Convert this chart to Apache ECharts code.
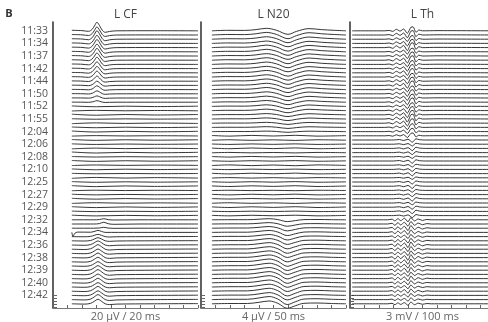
<!DOCTYPE html>
<html>
<head>
<meta charset="utf-8">
<script src="https://cdn.jsdelivr.net/npm/echarts@6/dist/echarts.min.js"></script>
<style>
  html, body { margin: 0; padding: 0; background: #fff; }
  #chart { width: 488px; height: 322px; }
</style>
</head>
<body>
<div id="chart"></div>
<script>
// acquisition times, one label every 3rd trace
const timeLabels = ['11:33', '11:34', '11:37', '11:42', '11:44', '11:50', '11:52', '11:55',
  '12:04', '12:06', '12:08', '12:10', '12:25', '12:27', '12:29', '12:32', '12:34', '12:36',
  '12:38', '12:39', '12:40', '12:42'];
const LABEL_STEP = 3;
const TRACE_COUNT = 66;

// waveform shapes: [time (axis units), amplitude (up = positive)]
const cfShapes = {
  A: [[1.3, 0.5], [2.0, 0.2], [2.45, -0.5], [2.7, 1.5], [2.86, 5], [3.03, 8.5], [3.2, 5.5], [3.4, 0.5], [3.6, -1.5], [3.9, -0.6], [4.4, 0], [7, 0.1], [10, 0]],
  B: [[1.3, 0], [2.2, -0.3], [2.6, 0.5], [2.85, 2.5], [3.1, 4.5], [3.35, 2.5], [3.6, 0], [3.9, -0.8], [4.4, -0.3], [7, 0], [10, 0.2]],
  C: [[1.3, 0], [2.8, 0], [3.2, 0.4], [3.5, 1.8], [3.8, 0.3], [4.2, -0.3], [6, 0], [10, 0]],
  X: [[1.3, 0], [1.38, -4], [1.5, -1], [1.7, 0.3], [2.6, 0.2], [2.9, 1.2], [3.1, 2], [3.35, 1], [3.6, 0], [10, 0]],
  D: [[1.3, 0.6], [3, -0.4], [5, 0.3], [7, -0.2], [10, 0.3]]
};
const cfOrder = 'A'.repeat(18) + 'D'.repeat(27) + 'CCC' + 'X' + 'B'.repeat(17);
const cfGains = [
  1.0, 0.95, 1.0, 0.95, 0.95, 0.9, 0.9, 0.85, 0.85, 0.8, 0.75, 0.7, 0.6, 0.5, 0.45, 0.35, 0.25, 0.18,
  0.8, -0.6, 1, 0.5, -0.8, 0.7, 1, -0.5, 0.8, 0.6, -0.7, 1, 0.5, 0.9, -0.6, 0.8, 0.4, -0.9, 0.7, 1, -0.5, 0.6, 0.8, -0.7, 0.9, 0.5, 0.7,
  0.6, 1, 0.5,
  1,
  0.5, 0.7, 0.9, 1, 0.95, 1, 1, 0.95, 1, 1.05, 1, 1, 0.95, 1.05, 1, 1.1, 1
];

const n20Shapes = {
  A: [[0.75, 0], [1.85, 0.5], [3.0, 0.4], [3.8, 1.2], [4.5, 2.5], [5.2, 0.6], [6.0, -3.5], [6.6, -0.5], [7.45, 2.2], [8.3, 1.2], [9.2, 0.5], [10, 0]],
  B: [[0.75, 0], [2, 0.3], [3.2, 0.3], [4.0, 1.5], [4.7, 2.8], [5.3, 0.5], [5.95, -4.5], [6.5, -2], [7.1, 0.5], [8, 0.8], [9, 0.3], [10, 0]],
  D: [[0.75, 0.3], [2, -0.3], [3.5, 0.4], [5, -0.2], [6.5, 0.5], [8, -0.3], [10, 0.2]]
};
const n20Order = 'A'.repeat(25) + 'D'.repeat(20) + 'B'.repeat(21);
const n20Gains = [
  1, 1.05, 1, 0.95, 1, 1, 0.95, 1, 0.95, 0.9, 0.95, 0.9, 0.9, 0.85, 0.85, 0.8, 0.75, 0.7, 0.65, 0.6, 0.5, 0.45, 0.35, 0.3, 0.2,
  1, -0.8, 0.7, 1, -0.6, 0.9, 0.8, -1, 0.6, 1, -0.7, 0.8, 1, -0.5, 0.9, 0.7, -0.8, 1, 0.6, 0.8,
  0.4, 0.5, 0.6, 0.7, 0.75, 0.8, 0.85, 0.9, 0.9, 0.95, 1, 1, 0.95, 1, 1.05, 1, 1, 1.05, 1, 1.1, 1
];

const thShapes = {
  A: [[0.15, 0], [2.4, 0], [2.7, 0.4], [2.95, -0.6], [3.2, 1.5], [3.45, -0.3], [3.7, 1.8], [3.95, -2.5], [4.2, 3.5], [4.35, 4], [4.55, -1.5], [4.75, 0.8], [5.0, 0], [6, 0.2], [10, 0]],
  M: [[0.15, 0], [3.0, 0], [3.4, 0.5], [3.7, -0.5], [4.0, 0.8], [4.3, -2.2], [4.55, 1.2], [4.8, 0.3], [5.2, 0], [10, 0]],
  B: [[0.15, 0], [2.6, 0], [2.9, 0.7], [3.1, -1.3], [3.3, 1.3], [3.5, -0.9], [3.75, 1.7], [4.0, -2.2], [4.2, 2.5], [4.45, -1.3], [4.7, 0.9], [5.0, -0.7], [5.3, 0.4], [5.6, 0], [10, 0]]
};
const thOrder = 'A'.repeat(26) + 'M'.repeat(19) + 'B'.repeat(21);
const thGains = [
  1, 1.1, 0.9, 1, 1.2, 0.9, 1, 1.1, 0.95, 1, 1.05, 0.9, 1, 1.1, 0.9, 1, 0.95, 1.05, 0.9, 1, 1.1, 1.2, 1.1, 0.9, 0.8, 0.7,
  1, 0.8, 1, 0.9, 0.7, 1, 0.8, 0.9, 1, 0.7, 0.9, 1, 0.8, 0.9, 1, 0.8, 0.9, 1, 0.9,
  0.9, 1, 1.1, 1, 0.9, 1, 1.2, 1.1, 1, 1.2, 1.1, 1, 1.1, 0.9, 1, 0.9, 0.8, 0.9, 0.8, 0.7, 0.7
];

const panelTitles = ['L CF', 'L N20', 'L Th'];
const scaleLabels = ['20 µV / 20 ms', '4 µV / 50 ms', '3 mV / 100 ms'];
const bottomTicks = [63, 63.7, 64.4, 65.1, 65.8];

const FONT = '"Open Sans", sans-serif';
const AMP_PER_ROW = 4.2;
const panels = [
  { shapes: cfShapes, order: cfOrder, gains: cfGains, left: 53, smooth: 0.35 },
  { shapes: n20Shapes, order: n20Order, gains: n20Gains, left: 201, smooth: 0.35 },
  { shapes: thShapes, order: thOrder, gains: thGains, left: 350, smooth: 0.25 }
];
const GRID_TOP = 22, GRID_H = 286, GRID_W = 145;

const labelValues = timeLabels.map((_, k) => k * LABEL_STEP);

const grid = panels.map(p => ({
  left: p.left, top: GRID_TOP, width: GRID_W, height: GRID_H,
  containLabel: false, outerBoundsMode: 'none'
}));

const xAxis = panels.map((p, i) => ({
  type: 'value', gridIndex: i, min: 0, max: 10, interval: 1,
  axisLine: { onZero: false, lineStyle: { color: '#777', width: 1 } },
  axisTick: { inside: true, length: 3, lineStyle: { color: '#666' } },
  axisLabel: { show: false },
  splitLine: { show: false },
  name: scaleLabels[i], nameLocation: 'middle', nameGap: 3,
  nameTextStyle: { fontSize: 11, color: '#666', fontFamily: FONT, verticalAlign: 'top' }
}));

const yAxis = panels.map((p, i) => ({
  type: 'value', gridIndex: i, inverse: true, min: -2.1, max: 66,
  axisLine: { show: true, onZero: false, lineStyle: { color: '#3a3a3a', width: 1.6 } },
  axisTick: { show: true, inside: true, length: 4, customValues: bottomTicks, lineStyle: { color: '#666' } },
  axisLabel: i === 0
    ? { customValues: labelValues, formatter: v => timeLabels[Math.round(v / LABEL_STEP)], margin: 5,
        fontSize: 10.5, color: '#555', fontFamily: FONT }
    : { show: false },
  splitLine: { show: false }
}));

const series = [];
panels.forEach((p, pi) => {
  for (let t = 0; t < TRACE_COUNT; t++) {
    const shape = p.shapes[p.order[t]];
    const g = p.gains[t];
    series.push({
      type: 'line', xAxisIndex: pi, yAxisIndex: pi,
      data: shape.map(([u, a]) => [u, t - g * a / AMP_PER_ROW]),
      showSymbol: false, smooth: p.smooth, silent: true,
      lineStyle: { color: '#1e1e1e', width: 0.9 }
    });
  }
});

const graphic = [
  { type: 'text', x: 9, y: 14, style: { text: 'B', font: 'bold 11px ' + FONT, fill: '#333', align: 'center', verticalAlign: 'middle' } }
].concat(panels.map((p, i) => ({
  type: 'text', x: p.left + GRID_W / 2, y: 15,
  style: { text: panelTitles[i], font: '12px ' + FONT, fill: '#444', align: 'center', verticalAlign: 'middle' }
})));

const chart = echarts.init(document.getElementById('chart'));
chart.setOption({
  animation: false,
  backgroundColor: '#fff',
  grid, xAxis, yAxis, series, graphic
});
</script>
</body>
</html>
